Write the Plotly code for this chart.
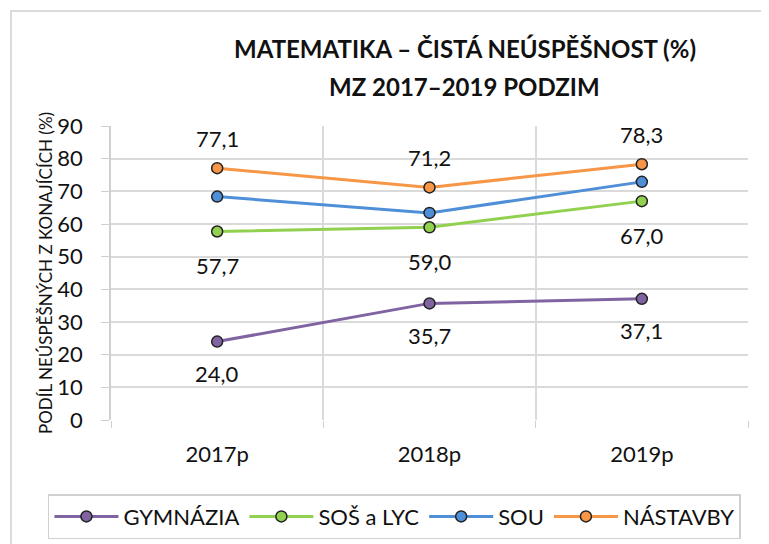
import plotly.graph_objects as go

# data
years = ["2017p", "2018p", "2019p"]
gymnazia = [24.0, 35.7, 37.1]
sos_lyc = [57.7, 59.0, 67.0]
sou = [68.4, 63.4, 72.9]
nastavby = [77.1, 71.2, 78.3]

FONT = "Lato, Carlito, Calibri, sans-serif"

series = [
    ("GYMNÁZIA", gymnazia, "#8064A2", -32),
    ("SOŠ a LYC", sos_lyc, "#92D050", -34),
    ("SOU", sou, "#4F8FD8", None),
    ("NÁSTAVBY", nastavby, "#F79646", 30),
]

fig = go.Figure()
annotations = []
for name, vals, colour, shift in series:
    fig.add_trace(go.Scatter(
        x=years, y=vals, name=name, mode="lines+markers",
        line=dict(color=colour, width=3),
        marker=dict(size=11, color=colour, line=dict(color="#222", width=1.5)),
    ))
    if shift is None:
        continue
    for x, v in zip(years, vals):
        annotations.append(dict(
            x=x, y=v, xref="x", yref="y", text=f"{v:.1f}".replace(".", ","),
            showarrow=False, yshift=shift, font=dict(size=22, color="#111", family=FONT),
        ))

# two-line chart title
annotations += [
    dict(x=0.555, y=1.265, xref="paper", yref="paper", yanchor="middle", showarrow=False,
         text="<b>MATEMATIKA – ČISTÁ NEÚSPĚŠNOST (%)</b>",
         font=dict(size=24, color="#111", family=FONT)),
    dict(x=0.555, y=1.133, xref="paper", yref="paper", yanchor="middle", showarrow=False,
         text="<b>MZ 2017–2019 PODZIM</b>",
         font=dict(size=24, color="#111", family=FONT)),
]

fig.update_layout(
    width=769, height=544,
    margin=dict(l=103, r=29, t=118, b=132),
    paper_bgcolor="white", plot_bgcolor="white",
    font=dict(family=FONT, size=22, color="#111"),
    annotations=annotations,
    showlegend=True,
    legend=dict(
        orientation="h", x=-0.099, xanchor="left",
        y=-0.252, yanchor="top",
        itemwidth=64,
        bordercolor="#d0d0d0", borderwidth=1.5, bgcolor="white",
        font=dict(size=22, family=FONT, color="#111"),
    ),
    xaxis=dict(
        type="category", range=[-0.5, 2.5], tickson="boundaries",
        ticks="outside", ticklen=7, ticklabelstandoff=19,
        tickcolor="#d0d0d0", showgrid=True, gridcolor="#dadada", gridwidth=1.5,
        showline=False, tickfont=dict(size=22), automargin=False,
    ),
    yaxis=dict(
        range=[0, 90], dtick=10, showgrid=True, gridcolor="#dadada", gridwidth=1.5,
        showline=True, linecolor="#d0d0d0", linewidth=1.5,
        ticks="outside", ticklen=8, tickcolor="#d0d0d0", ticklabelstandoff=14,
        zeroline=False, tickfont=dict(size=22), automargin=False,
        title=dict(text="PODÍL NEÚSPĚŠNÝCH Z KONAJÍCÍCH (%)", font=dict(size=17), standoff=0),
    ),
    shapes=[dict(type="rect", xref="paper", yref="paper",
                 x0=-0.157, x1=1.03, y0=-0.46, y1=1.391,
                 line=dict(color="#d0d0d0", width=1.5), layer="below")],
)

fig.write_html("out.html")
